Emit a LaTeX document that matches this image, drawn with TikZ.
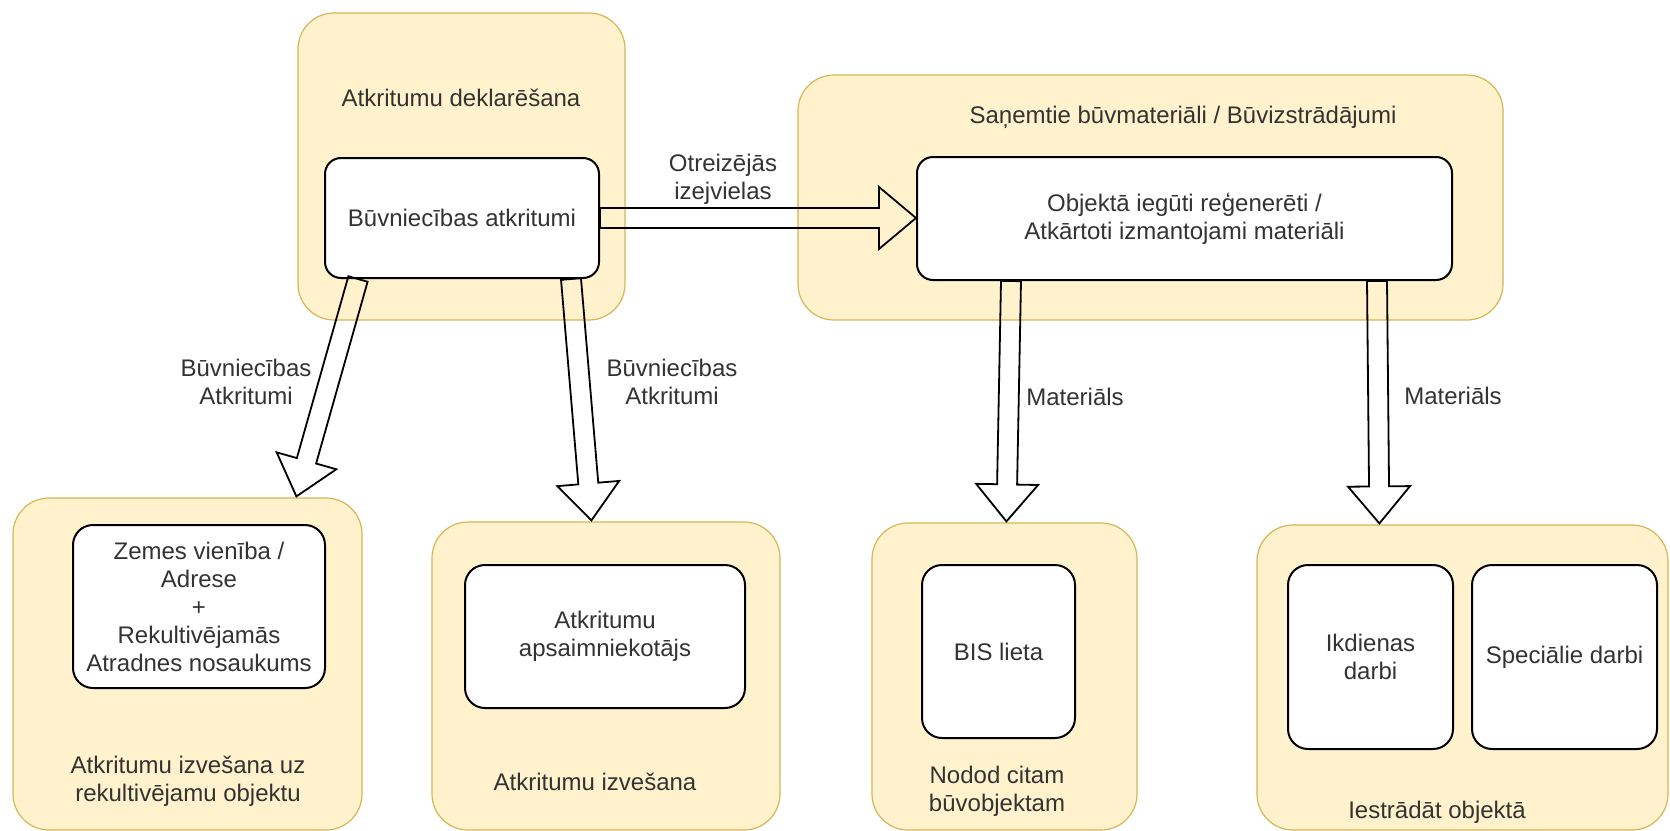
\documentclass[tikz,border=0pt]{standalone}
\usepackage{fontspec}
\setmainfont{Liberation Sans}
\usetikzlibrary{calc,fit}
\definecolor{boxfill}{HTML}{FFF2CC}
\definecolor{boxline}{HTML}{D6B656}
\definecolor{txt}{HTML}{333333}
\tikzset{
  outerbox/.style={draw=boxline, fill=boxfill, line width=0.6pt, rounded corners=18pt, inner sep=0pt},
  innerbox/.style={draw=black, fill=white, line width=1pt, rounded corners=8pt, inner sep=0pt, align=center, text=txt, font=\fontsize{12}{14}\selectfont},
  lbl/.style={align=center, text=txt, font=\fontsize{12}{14}\selectfont, inner sep=0pt},
  blockarrow/.style={draw=black, line width=0.9pt, line join=miter},
}
\newcommand{\blkarrow}[2]{%
  \coordinate (tmpb) at ($(#2)!18.5pt!(#1)$);
  \draw[blockarrow] ($(#1)!5pt!90:(#2)$) -- ($(tmpb)!5pt!90:(#2)$) -- ($(tmpb)!15.5pt!90:(#2)$) -- (#2) -- ($(tmpb)!15.5pt!-90:(#2)$) -- ($(tmpb)!5pt!-90:(#2)$) -- ($(#1)!5pt!-90:(#2)$) -- cycle;
}
\begin{document}
\begin{tikzpicture}[x=0.5pt, y=-0.5pt]
\useasboundingbox[fill=white] (0,0) rectangle (1670,830);

% outer containers
\node[outerbox, fit={(298,13) (625,320)}] (boxA) {};
\node[outerbox, fit={(798,75) (1503,320)}] (boxB) {};
\node[outerbox, fit={(13,498) (362,830)}] (boxC) {};
\node[outerbox, fit={(432,522) (780,830)}] (boxD) {};
\node[outerbox, fit={(872,523) (1137,830)}] (boxE) {};
\node[outerbox, fit={(1257,525) (1668,830)}] (boxF) {};

% container labels
\node[lbl] (labA) at (461,98) {Atkritumu deklarēšana};
\node[lbl] (labB) at (1183,117) {Saņemtie būvmateriāli / Būvizstrādājumi};
\node[lbl] (labC) at (188,781) {Atkritumu izvešana uz\\rekultivējamu objektu};
\node[lbl] (labD) at (595,782) {Atkritumu izvešana};
\node[lbl] (labE) at (997,791) {Nodod citam\\būvobjektam};
\node[lbl] (labF) at (1437,812) {Iestrādāt objektā};

% inner boxes
\node[innerbox, minimum width=137pt, minimum height=60pt] (inA) at (462,218) {Būvniecības atkritumi};
\node[innerbox, minimum width=267.5pt, minimum height=61.5pt] (inB) at (1184.5,218.5) {Objektā iegūti reģenerēti /\\Atkārtoti izmantojami materiāli};
\node[innerbox, rounded corners=10pt, minimum width=126pt, minimum height=81.5pt] (inC) at (199,606.5) {Zemes vienība /\\Adrese\\+\\Rekultivējamās\\Atradnes nosaukums};
\node[innerbox, rounded corners=10pt, minimum width=140pt, minimum height=71.5pt] (inD) at (605,636.5) {Atkritumu\\apsaimniekotājs};
\node[innerbox, rounded corners=10pt, minimum width=76.5pt, minimum height=86.5pt] (inE) at (998.5,651.5) {BIS lieta};
\node[innerbox, rounded corners=10pt, minimum width=82.5pt, minimum height=92pt] (inF1) at (1370.5,657) {Ikdienas\\darbi};
\node[innerbox, rounded corners=10pt, minimum width=92.5pt, minimum height=92pt] (inF2) at (1564.5,657) {Speciālie darbi};

% arrow end points
\coordinate (a1s) at ($(inA.south west)+(34,0)$);
\coordinate (a1t) at ($(boxC.north west)+(284,-1)$);
\coordinate (a2s) at ($(inA.south west)+(247,0)$);
\coordinate (a2t) at ($(boxD.north west)+(160,-1)$);
\coordinate (a3s) at ($(inB.south west)+(95,0)$);
\coordinate (a3t) at ($(boxE.north west)+(135,-1)$);
\coordinate (a4s) at ($(inB.south west)+(461,0)$);
\coordinate (a4t) at ($(boxF.north west)+(123,-1)$);
\coordinate (hs) at (inA.east);
\coordinate (ht) at (inA.east -| inB.west);

% block arrows
\blkarrow{hs}{ht}
\blkarrow{a1s}{a1t}
\blkarrow{a2s}{a2t}
\blkarrow{a3s}{a3t}
\blkarrow{a4s}{a4t}

% arrow labels
\node[lbl] (lOtr) at (723,179) {Otreizējās\\izejvielas};
\node[lbl] (lBA1) at (246,382) {Būvniecības\\Atkritumi};
\node[lbl] (lBA2) at (672,382) {Būvniecības\\Atkritumi};
\node[lbl] (lM1) at (1075,397) {Materiāls};
\node[lbl] (lM2) at (1453,396) {Materiāls};
\end{tikzpicture}
\end{document}
